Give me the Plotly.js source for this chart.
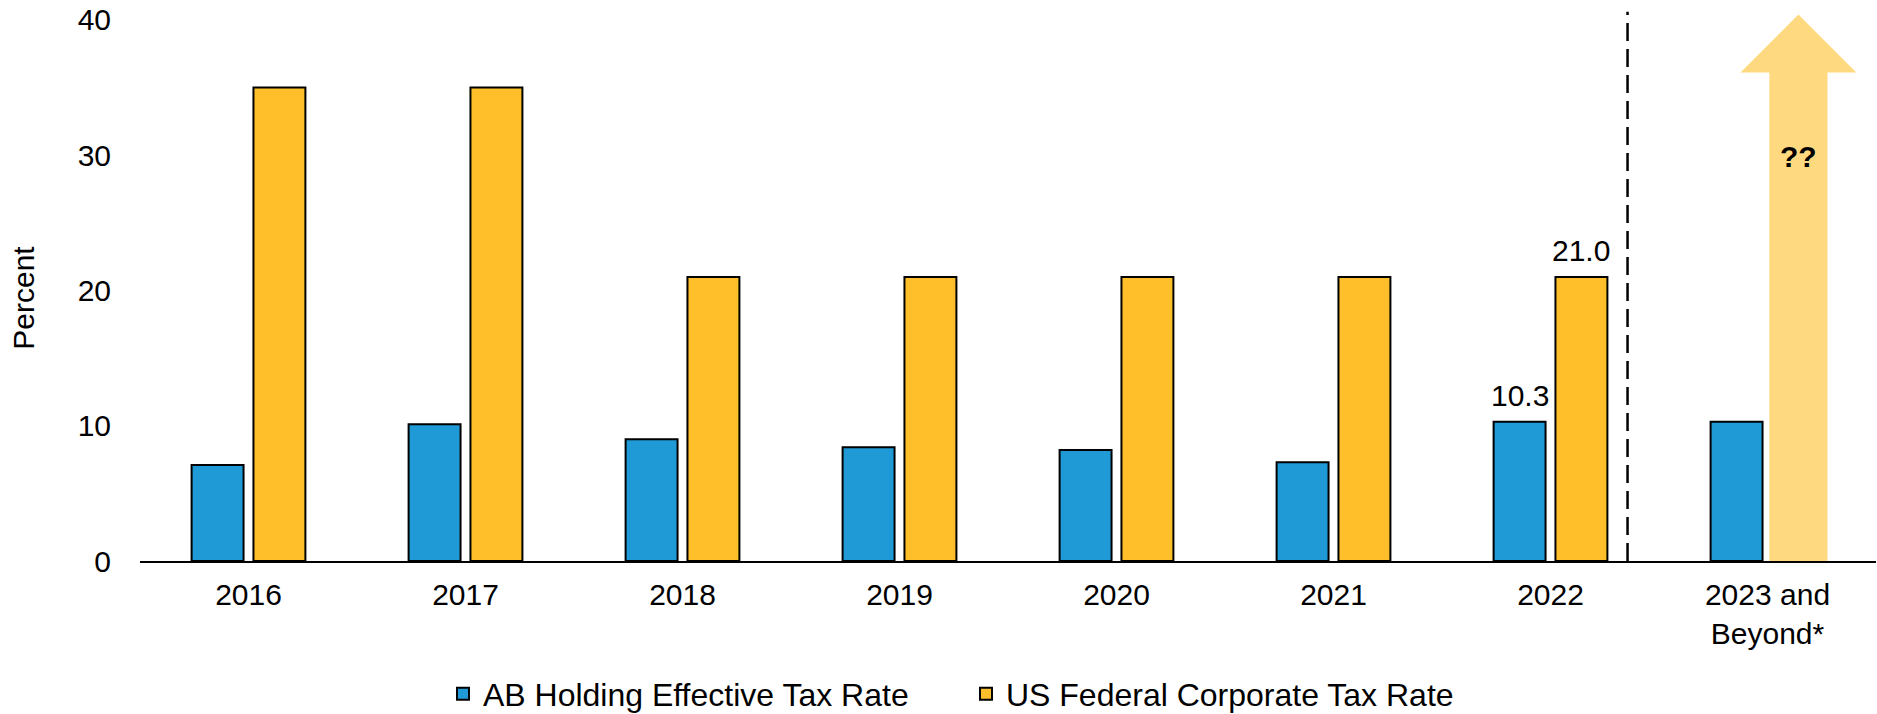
<!DOCTYPE html>
<html>
<head>
<meta charset="utf-8">
<script src="https://cdn.plot.ly/plotly-3.0.1.min.js"></script>
<style>html,body{margin:0;padding:0;background:#fff}#chart{width:1877px;height:714px}</style>
</head>
<body>
<div id="chart"></div>
<script>
// ---- data ----
const categories = ['2016', '2017', '2018', '2019', '2020', '2021', '2022', '2023 and<br>Beyond*'];
const abHoldingRate = [7.1, 10.1, 9.0, 8.4, 8.2, 7.3, 10.3, 10.3];
const usFederalRate = [35, 35, 21, 21, 21, 21, 21, null];
const abLabels = ['', '', '', '', '', '', '10.3', ''];
const usLabels = ['', '', '', '', '', '', '21.0', ''];
const seriesNames = ['AB Holding Effective Tax Rate', 'US Federal Corporate Tax Rate'];
const yTicks = [0, 10, 20, 30, 40];
const futureLabel = '??';
const arrowHeadBase = 36.1;
const arrowTip = 40.4;

// ---- style ----
const BLUE = '#209AD6';
const YELLOW = '#FEBF2B';
const ARROW = '#FFD97F';
const FONT = 'Liberation Sans, Arial, sans-serif';
const bargap = 0.43, bargroupgap = 0.16;

const nCat = categories.length;
const lastIdx = nCat - 1;
const slot = (1 - bargap) / 2;
const arrowCenter = lastIdx + slot / 2;
const shaftHalf = 0.134, headHalf = 0.267;
const dividerX = lastIdx - 0.645;

const traces = [
  {
    type: 'bar', name: seriesNames[0], x: categories, y: abHoldingRate,
    marker: {color: BLUE, line: {color: '#000', width: 2}},
    hoverinfo: 'x+y'
  },
  {
    type: 'bar', name: seriesNames[1], x: categories, y: usFederalRate,
    marker: {color: YELLOW, line: {color: '#000', width: 2}},
    hoverinfo: 'x+y'
  }
];

// value labels placed above their bars
const labelAnnotations = [];
[[abLabels, abHoldingRate, -1], [usLabels, usFederalRate, 1]].forEach(([labels, vals, side]) => {
  labels.forEach((t, i) => {
    if (!t) return;
    labelAnnotations.push({
      xref: 'x', yref: 'y', x: i + side * slot / 2, y: vals[i], text: t,
      showarrow: false, xanchor: 'center', yanchor: 'bottom', yshift: 8,
      font: {family: FONT, size: 30, color: '#000'}
    });
  });
});

const pts = [
  [arrowCenter - shaftHalf, 0],
  [arrowCenter - shaftHalf, arrowHeadBase],
  [arrowCenter - headHalf, arrowHeadBase],
  [arrowCenter, arrowTip],
  [arrowCenter + headHalf, arrowHeadBase],
  [arrowCenter + shaftHalf, arrowHeadBase],
  [arrowCenter + shaftHalf, 0]
];
const arrowPath = pts.map((p, i) => (i === 0 ? 'M' : 'L') + p[0] + ',' + p[1]).join(' ') + ' Z';

const layout = {
  width: 1877, height: 714,
  margin: {l: 140, r: 1, t: 9, b: 153},
  paper_bgcolor: '#fff', plot_bgcolor: '#fff',
  font: {family: FONT, size: 30, color: '#000'},
  barmode: 'group', bargap: bargap, bargroupgap: bargroupgap,
  showlegend: true,
  legend: {orientation: 'h', xref: 'container', yref: 'container',
           x: 0.236, xanchor: 'left', y: 0.028, yanchor: 'middle',
           entrywidth: 478, entrywidthmode: 'pixels',
           font: {family: FONT, size: 32, color: '#000'}, traceorder: 'normal'},
  xaxis: {
    type: 'category', range: [-0.5, nCat - 0.5],
    showline: true, linecolor: '#000', linewidth: 2,
    showgrid: false, zeroline: false, ticks: '',
    tickfont: {family: FONT, size: 30, color: '#000'},
    ticklabelstandoff: 6, fixedrange: true
  },
  yaxis: {
    range: [0, 40.8], tickvals: yTicks, ticktext: yTicks.map(String),
    showline: false, showgrid: false, zeroline: false, ticks: '',
    tickfont: {family: FONT, size: 30, color: '#000'},
    ticklabelstandoff: 28, fixedrange: true
  },
  shapes: [
    {type: 'path', xref: 'x', yref: 'y', path: arrowPath, fillcolor: ARROW,
     line: {width: 0}, layer: 'below'},
    {type: 'line', xref: 'x', yref: 'y', x0: dividerX, x1: dividerX, y0: 0, y1: 40.6,
     line: {color: '#000', width: 2.5, dash: '18px,8px'}, layer: 'above'}
  ],
  annotations: [
    {xref: 'paper', yref: 'paper', x: -0.0668, y: 0.477, text: 'Percent', textangle: -90,
     showarrow: false, xanchor: 'center', yanchor: 'middle',
     font: {family: FONT, size: 30, color: '#000'}},
    {xref: 'x', yref: 'y', x: arrowCenter, y: 29.9, text: '<b>' + futureLabel + '</b>',
     showarrow: false, xanchor: 'center', yanchor: 'middle',
     font: {family: FONT, size: 30, color: '#000'}}
  ].concat(labelAnnotations)
};

Plotly.newPlot('chart', traces, layout, {displayModeBar: false});
</script>
</body>
</html>
